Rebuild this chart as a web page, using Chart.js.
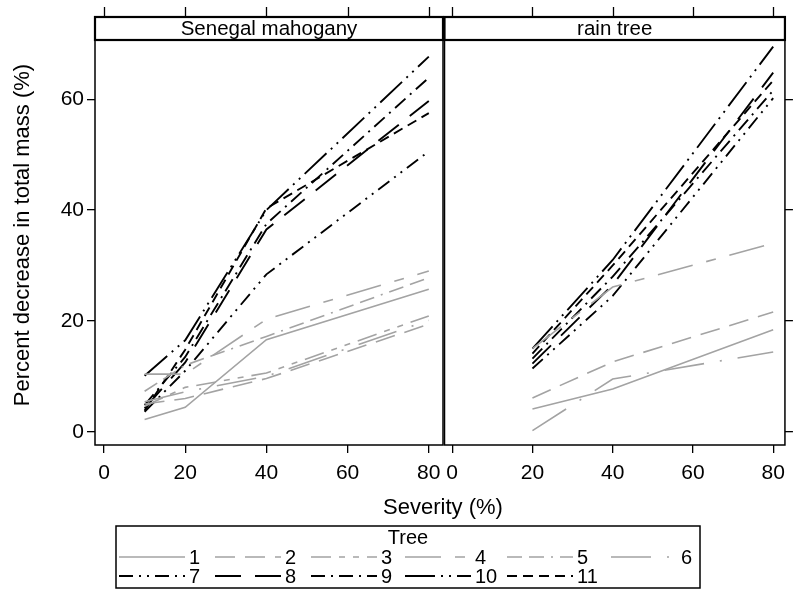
<!DOCTYPE html>
<html>
<head>
<meta charset="utf-8">
<script src="https://cdn.jsdelivr.net/npm/chart.js@4.4.1/dist/chart.umd.min.js"></script>
<style>
  html, body { margin: 0; padding: 0; background: #fff; }
  #wrap { position: relative; width: 793px; height: 592px; overflow: hidden; }
  #wrap canvas { position: absolute; left: 0; top: 0; }
</style>
</head>
<body>
<div id="wrap">
  <canvas id="mahogany" width="793" height="592"></canvas>
  <canvas id="raintree" width="793" height="592"></canvas>
</div>
<script>
// ---- data ----
const panelTitles = ['Senegal mahogany', 'rain tree'];
const treeLabels = ['1', '2', '3', '4', '5', '6', '7', '8', '9', '10', '11'];
const severityMahogany = [10, 20, 40, 80];
const severityRainTree = [20, 40, 80];
const xTickValues = [0, 20, 40, 60, 80];
const yTickValues = [0, 20, 40, 60];

// Percent decrease in total mass, Senegal mahogany (one array per tree)
const mahoganyTree1  = [2.2, 4.4, 16.6, 25.7];
const mahoganyTree2  = [5.0, 6.0, 9.6, 19.4];
const mahoganyTree3  = [4.6, 8.0, 10.6, 20.9];
const mahoganyTree4  = [10.4, 10.4, 20.3, 29.0];
const mahoganyTree5  = [7.3, 12.0, 17.2, 27.8];
const mahoganyTree6  = [5.4, 7.2, 10.0, 20.1];
const mahoganyTree7  = [3.6, 11.0, 28.4, 50.6];
const mahoganyTree8  = [4.2, 12.5, 36.5, 59.7];
const mahoganyTree9  = [4.8, 13.5, 37.5, 63.9];
const mahoganyTree10 = [10.1, 16.5, 40.0, 67.7];
const mahoganyTree11 = [3.8, 14.8, 40.3, 57.5];

// Percent decrease in total mass, rain tree (null: tree not measured)
const rainTree1  = [4.1, 7.7, 18.4];
const rainTree2  = [6.1, 12.6, 21.6];
const rainTree3  = null;
const rainTree4  = [15.0, 26.1, 34.0];
const rainTree5  = null;
const rainTree6  = [0.2, 9.5, 14.4];
const rainTree7  = [11.4, 24.5, 60.2];
const rainTree8  = [12.3, 26.5, 64.8];
const rainTree9  = [13.2, 28.0, 61.6];
const rainTree10 = [15.0, 31.0, 69.5];
const rainTree11 = [14.1, 30.0, 63.4];

const mahoganySeries = [mahoganyTree1, mahoganyTree2, mahoganyTree3, mahoganyTree4, mahoganyTree5,
  mahoganyTree6, mahoganyTree7, mahoganyTree8, mahoganyTree9, mahoganyTree10, mahoganyTree11];
const rainTreeSeries = [rainTree1, rainTree2, rainTree3, rainTree4, rainTree5,
  rainTree6, rainTree7, rainTree8, rainTree9, rainTree10, rainTree11];

// ---- styles ----
const FONT = '"Liberation Sans", Arial, Helvetica, sans-serif';
Chart.defaults.font.family = FONT;
Chart.defaults.color = '#000';

const GRAY = '#a3a3a3';
const treeColors = [GRAY, GRAY, GRAY, GRAY, GRAY, GRAY, '#000', '#000', '#000', '#000', '#000'];
const treeWidths = [1.6, 1.6, 1.6, 1.6, 1.6, 1.6, 1.9, 1.9, 1.9, 1.9, 1.9];
const treeDashes = [
  [],                         // 1 solid
  [20, 10],                   // 2 dash
  [20, 8, 6, 8, 6, 8],        // 3 dash, short, short
  [36, 14, 10, 14],           // 4 long dash, short dash
  [15, 7, 15, 7, 2, 7],       // 5 dash, dash, dot
  [40, 16, 2, 16],            // 6 long dash, dot
  [14, 6, 2, 6, 2, 6],        // 7 dash, dot, dot
  [26, 14],                   // 8 long dash
  [14, 6, 2, 6],              // 9 dash, dot
  [30, 6, 2, 6, 2, 6],        // 10 long dash, dot, dot
  [10, 6]                     // 11 short dash
];

const STRIP_TOP = 17;
const PLOT_TOP = 40;
const PLOT_BOTTOM = 445;

// frame around each panel, the title strip above it and the tick marks above the strip
const panelFrame = {
  id: 'panelFrame',
  afterDraw(chart, args, opts) {
    const { ctx, chartArea: a } = chart;
    const xs = chart.scales.x;
    ctx.save();
    ctx.strokeStyle = '#000';
    ctx.lineWidth = 1.5;
    ctx.strokeRect(a.left, a.top, a.right - a.left, a.bottom - a.top);
    ctx.lineWidth = 2.2;
    ctx.strokeRect(a.left, STRIP_TOP, a.right - a.left, a.top - STRIP_TOP);
    ctx.fillStyle = '#000';
    ctx.font = '20.5px ' + FONT;
    ctx.textAlign = 'center';
    ctx.textBaseline = 'middle';
    ctx.fillText(opts.title, (a.left + a.right) / 2, (STRIP_TOP + a.top) / 2 + 1);
    ctx.lineWidth = 1.3;
    for (const v of xTickValues) {
      const px = Math.round(xs.getPixelForValue(v)) + 0.5;
      ctx.beginPath();
      ctx.moveTo(px, STRIP_TOP - 10);
      ctx.lineTo(px, STRIP_TOP);
      ctx.stroke();
    }
    ctx.restore();
  }
};

// shared axis titles and the tree key under both panels
const sharedDecor = {
  id: 'sharedDecor',
  afterDraw(chart) {
    const { ctx } = chart;
    ctx.save();
    ctx.fillStyle = '#000';
    ctx.textAlign = 'center';
    ctx.textBaseline = 'middle';
    ctx.font = '22px ' + FONT;
    ctx.fillText('Severity (%)', 443, 508);
    ctx.save();
    ctx.translate(23, 235);
    ctx.rotate(-Math.PI / 2);
    ctx.fillText('Percent decrease in total mass (%)', 0, 0);
    ctx.restore();

    // key
    const box = { left: 116, top: 526, right: 700, bottom: 588 };
    ctx.strokeStyle = '#000';
    ctx.lineWidth = 1.5;
    ctx.strokeRect(box.left, box.top, box.right - box.left, box.bottom - box.top);
    ctx.font = '20px ' + FONT;
    ctx.fillText('Tree', (box.left + box.right) / 2, 538);
    const colX = [119, 215, 311, 405, 507, 611];
    const rowY = [557, 576];
    ctx.textAlign = 'left';
    chart.data.datasets.forEach((ds, i) => {
      const row = i < 6 ? 0 : 1;
      const col = i < 6 ? i : i - 6;
      const x0 = colX[col];
      const y = rowY[row];
      ctx.save();
      ctx.strokeStyle = ds.borderColor;
      ctx.lineWidth = ds.borderWidth;
      ctx.setLineDash(ds.borderDash);
      ctx.beginPath();
      ctx.moveTo(x0, y);
      ctx.lineTo(x0 + 66, y);
      ctx.stroke();
      ctx.restore();
      ctx.fillText(ds.label, x0 + 70, y + 1);
    });
    ctx.restore();
  }
};

function makeDatasets(xs, series) {
  return treeLabels.map((label, i) => ({
    label,
    data: series[i] ? xs.map((x, j) => ({ x, y: series[i][j] })) : [],
    borderColor: treeColors[i],
    borderWidth: treeWidths[i],
    borderDash: treeDashes[i],
    pointRadius: 0,
    tension: 0,
    fill: false
  }));
}

function tickMarks() {
  return { drawOnChartArea: false, drawTicks: true, tickLength: 8, color: '#000', lineWidth: 1.3 };
}

function panel(canvasId, title, xs, series, isLeft) {
  const xRange = isLeft ? { min: -2.22, max: 83.5 } : { min: -1.92, max: 82.93 };
  const yAxis = isLeft
    ? {
        type: 'linear', position: 'left', min: -2.4, max: 70.7,
        afterBuildTicks: s => { s.ticks = yTickValues.map(v => ({ value: v })); },
        afterFit: s => { s.width = 95; },
        grid: tickMarks(), border: { display: false },
        ticks: { font: { size: 21 }, color: '#000', padding: 3 }
      }
    : {
        type: 'linear', position: 'right', min: -2.4, max: 70.7,
        afterBuildTicks: s => { s.ticks = yTickValues.map(v => ({ value: v })); },
        afterFit: s => { s.width = 4; },
        grid: tickMarks(), border: { display: false },
        ticks: { display: false }
      };
  return new Chart(document.getElementById(canvasId), {
    type: 'line',
    data: { datasets: makeDatasets(xs, series) },
    options: {
      responsive: false,
      animation: false,
      events: [],
      layout: {
        padding: isLeft
          ? { left: 0, right: 350, top: PLOT_TOP, bottom: 0 }
          : { left: 444.5, right: 0, top: PLOT_TOP, bottom: 0 }
      },
      plugins: {
        legend: { display: false },
        tooltip: { enabled: false },
        panelFrame: { title }
      },
      scales: {
        x: {
          type: 'linear', position: 'bottom', ...xRange,
          afterBuildTicks: s => { s.ticks = xTickValues.map(v => ({ value: v })); },
          afterFit: s => { s.height = 592 - PLOT_BOTTOM; },
          grid: tickMarks(), border: { display: false },
          ticks: { font: { size: 21 }, color: '#000', padding: 8, maxRotation: 0, autoSkip: false }
        },
        y: yAxis
      }
    },
    plugins: isLeft ? [panelFrame, sharedDecor] : [panelFrame]
  });
}

panel('mahogany', panelTitles[0], severityMahogany, mahoganySeries, true);
panel('raintree', panelTitles[1], severityRainTree, rainTreeSeries, false);
</script>
</body>
</html>
